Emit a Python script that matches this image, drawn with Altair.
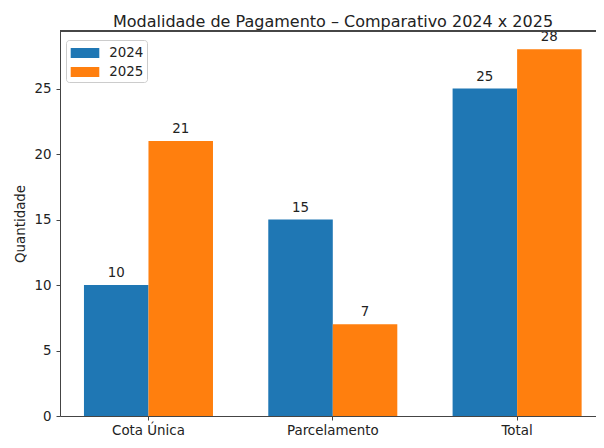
import altair as alt
import pandas as pd

categories = ["Cota Única", "Parcelamento", "Total"]
years = ["2024", "2025"]
values_2024 = [10, 15, 25]
values_2025 = [21, 7, 28]
colors = ["#1f77b4", "#ff7f0e"]
y_ticks = [0, 5, 10, 15, 20, 25]

rows = []
for c, a, b in zip(categories, values_2024, values_2025):
    rows.append({"categoria": c, "ano": years[0], "quantidade": a})
    rows.append({"categoria": c, "ano": years[1], "quantidade": b})
df = pd.DataFrame(rows)

FONT = "DejaVu Sans"
W, H = 536, 385

x = alt.X("categoria:N", sort=categories,
          scale=alt.Scale(paddingInner=0.3, paddingOuter=0.104, align=0.625),
          axis=alt.Axis(title=None, labelAngle=0, labelFontSize=13.4, labelFont=FONT,
                        labelColor="#222222", tickColor="#444444", tickSize=4,
                        labelPadding=3, domainColor="#444444", grid=False))
xo = alt.XOffset("ano:N", sort=years, scale=alt.Scale(paddingInner=0, paddingOuter=0))
y = alt.Y("quantidade:Q",
          scale=alt.Scale(domain=[0, 29.4], nice=False, zero=True),
          axis=alt.Axis(title="Quantidade", values=y_ticks, grid=False,
                        labelFontSize=13.4, labelFont=FONT, labelColor="#222222",
                        tickColor="#444444", tickSize=4, labelPadding=5,
                        domainColor="#444444",
                        titleFont=FONT, titleFontSize=13.4, titleFontWeight="normal",
                        titleColor="#222222", titleAngle=-90, titleX=-40, titleY=H / 2,
                        titleAlign="center", titleBaseline="middle"))
color = alt.Color("ano:N", sort=years,
                  scale=alt.Scale(domain=years, range=colors),
                  legend=alt.Legend(title=None, orient="none", legendX=6, legendY=9,
                                    symbolType="M-0.83,-0.5L2.03,-0.5L2.03,0.5L-0.83,0.5Z",
                                    symbolSize=400, symbolStrokeWidth=0, symbolOpacity=1,
                                    labelFontSize=13.4, labelFont=FONT, labelColor="#222222",
                                    labelOffset=20.3, padding=3, strokeColor="#cccccc",
                                    fillColor="white", cornerRadius=3, rowPadding=2))

bars = alt.Chart(df).mark_bar().encode(x=x, xOffset=xo, y=y, color=color)
labels = alt.Chart(df).mark_text(dy=-5, fontSize=13.4, font=FONT, color="#222222",
                                 baseline="bottom").encode(
    x=x, xOffset=xo, y=y, text="quantidade:Q")
top = alt.Chart(df).mark_rule(color="#444444", strokeWidth=1).encode(
    y=alt.value(0), x=alt.value(0), x2=alt.value(W))

chart = (bars + labels + top).properties(
    width=W, height=H,
    title=alt.TitleParams("Modalidade de Pagamento – Comparativo 2024 x 2025",
                          font=FONT, fontSize=16, fontWeight="normal",
                          color="#222222", anchor="middle", offset=3, dx=5, dy=3),
    autosize=alt.AutoSizeParams(type="none"),
    padding={"left": 52, "top": 23, "right": 0, "bottom": 22},
).configure_view(stroke=None)

chart.save("out.html", embed_options={"renderer": "svg", "actions": False})
